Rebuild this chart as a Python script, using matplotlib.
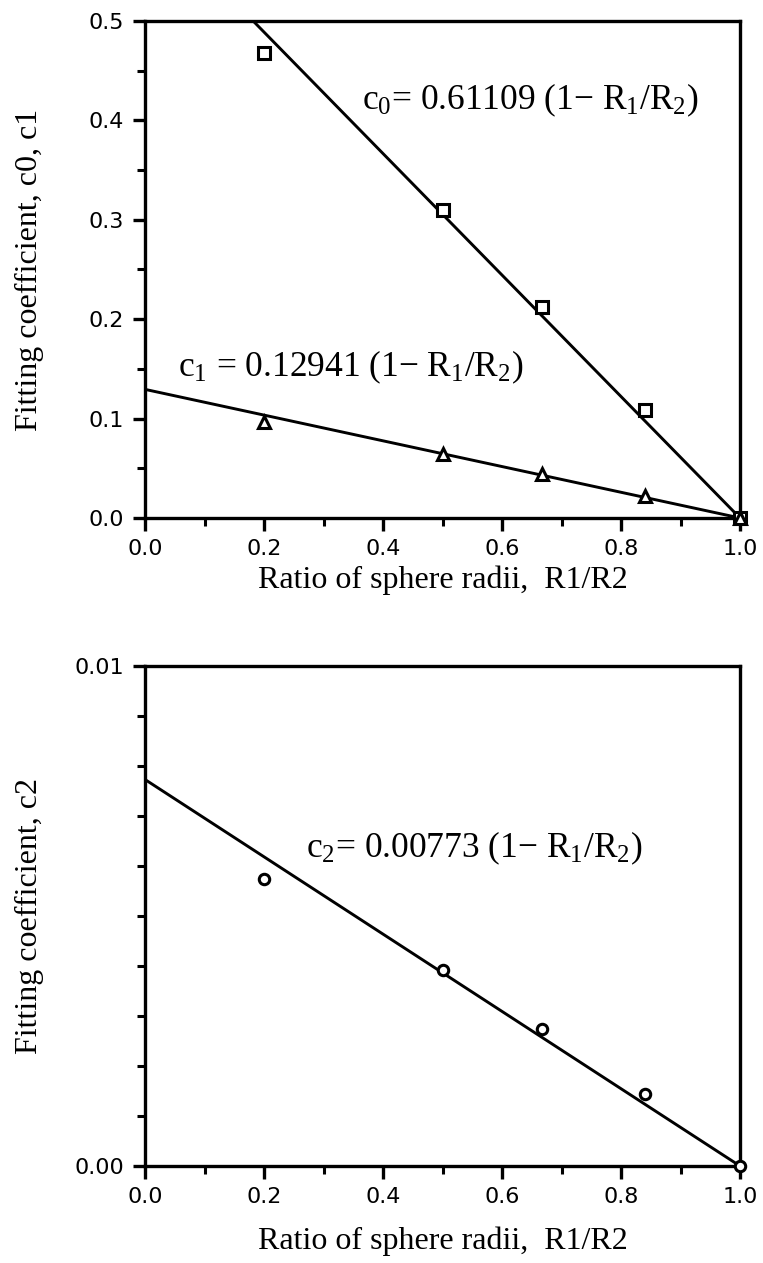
import matplotlib
matplotlib.use("Agg")
import matplotlib.pyplot as plt
from matplotlib.ticker import MultipleLocator, FormatStrFormatter

plt.rcParams['mathtext.fontset'] = 'custom'
plt.rcParams['mathtext.rm'] = 'Liberation Serif'
plt.rcParams['mathtext.it'] = 'Liberation Serif'
plt.rcParams['mathtext.default'] = 'rm'

# ---- data ----
ratio = [0.2, 0.5, 0.667, 0.84, 1.0]
c0_vals = [0.468, 0.310, 0.212, 0.109, 0.0]
c1_vals = [0.097, 0.064, 0.044, 0.022, 0.0]
c2_vals = [0.00574, 0.00393, 0.00275, 0.00145, 0.0]

fit_x = [0.0, 1.0]
c0_fit = [0.61109, 0.0]
c1_fit = [0.12941, 0.0]
c2_fit = [0.00773, 0.0]

xticks = [0.0, 0.2, 0.4, 0.6, 0.8, 1.0]
top_yticks = [0.0, 0.1, 0.2, 0.3, 0.4, 0.5]
bot_yticks = [0.00, 0.01]

eq_c0 = r"c$_0$= 0.61109 (1$-$ R$_1$/R$_2$)"
eq_c1 = r"c$_1$ = 0.12941 (1$-$ R$_1$/R$_2$)"
eq_c2 = r"c$_2$= 0.00773 (1$-$ R$_1$/R$_2$)"
xlabel = "Ratio of sphere radii,  R1/R2"
ylabel_top = "Fitting coefficient, c0, c1"
ylabel_bot = "Fitting coefficient, c2"

W, H = 763, 1263
fig = plt.figure(figsize=(W / 100, H / 100), dpi=100)

left = 145 / W
width = (740 - 145) / W
ax1 = fig.add_axes([left, 1 - 518 / H, width, (518 - 21) / H])
ax2 = fig.add_axes([left, 1 - 1166 / H, width, (1166 - 666) / H])

serif = "Liberation Serif"
sans = "DejaVu Sans"
lw = 2.1
label_fs = 23
eq_fs = 25.5

def style(ax, yticks, ymax, yminor, yfmt):
    ax.set_xlim(0, 1.0)
    ax.set_ylim(0, ymax)
    for s in ax.spines.values():
        s.set_linewidth(2.4)
    ax.set_xticks(xticks)
    ax.set_yticks(yticks)
    ax.xaxis.set_minor_locator(MultipleLocator(0.1))
    ax.yaxis.set_minor_locator(MultipleLocator(yminor))
    ax.xaxis.set_major_formatter(FormatStrFormatter('%.1f'))
    ax.yaxis.set_major_formatter(FormatStrFormatter(yfmt))
    ax.tick_params(which='major', direction='out', length=9, width=2.4,
                   labelsize=16, pad=6)
    ax.tick_params(which='minor', direction='out', length=6, width=2.2)
    for lab in ax.get_xticklabels() + ax.get_yticklabels():
        lab.set_fontfamily(sans)
    ax.set_xlabel(xlabel, fontfamily=serif, fontsize=label_fs)
    ax.xaxis.set_label_coords(0.5, -0.095)

# top panel
ax1.plot(fit_x, c0_fit, color='black', lw=lw)
ax1.plot(fit_x, c1_fit, color='black', lw=lw)
ax1.plot(ratio, c0_vals, linestyle='none', marker='s', ms=8.5, mfc='white',
         mec='black', mew=2.2, clip_on=False, zorder=5)
ax1.plot(ratio, c1_vals, linestyle='none', marker='^', ms=9, mfc='white',
         mec='black', mew=2.2, clip_on=False, zorder=5)
style(ax1, top_yticks, 0.5, 0.05, '%.1f')
ax1.set_ylabel(ylabel_top, fontfamily=serif, fontsize=label_fs)
ax1.yaxis.set_label_coords(-0.17, 0.5)
ax1.text(0.365, 0.4205, eq_c0, fontfamily=serif, fontsize=eq_fs, va='center', ha='left')
ax1.text(0.055, 0.152, eq_c1, fontfamily=serif, fontsize=eq_fs, va='center', ha='left')

# bottom panel
ax2.plot(fit_x, c2_fit, color='black', lw=lw)
ax2.plot(ratio, c2_vals, linestyle='none', marker='o', ms=7.5, mfc='white',
         mec='black', mew=2.2, clip_on=False, zorder=5)
style(ax2, bot_yticks, 0.01, 0.001, '%.2f')
ax2.set_ylabel(ylabel_bot, fontfamily=serif, fontsize=label_fs)
ax2.yaxis.set_label_coords(-0.17, 0.5)
ax2.xaxis.set_label_coords(0.5, -0.12)
ax2.text(0.27, 0.00636, eq_c2, fontfamily=serif, fontsize=eq_fs, va='center', ha='left')

fig.savefig("out.png", dpi=100, facecolor='white')
